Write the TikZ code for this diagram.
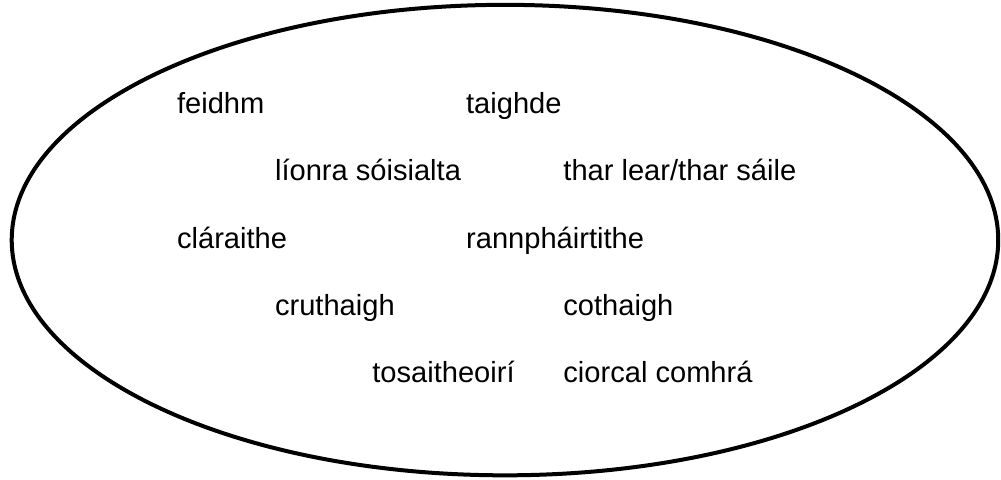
\documentclass[tikz,border=0pt]{standalone}
\usepackage{fontspec}
\setmainfont{Liberation Sans}
\usetikzlibrary{positioning, shapes.geometric}

\begin{document}
\begin{tikzpicture}[
    word/.style={anchor=base west, inner sep=0pt, font=\fontsize{12}{14}\selectfont},
    outline/.style={draw=black, ellipse, line width=1.65pt,
        minimum width=14.3cm, minimum height=6.82cm}
]
\useasboundingbox (-7.32,-3.47) rectangle (7.19,3.48);

% Circle
\node[outline] (map) at (0,0) {};

% Words
\node[word] (feidhm) at (-4.76,1.84) {feidhm};
\node[word] (taighde) at (-0.57,1.84) {taighde};
\node[word] (lionra) at (-3.34,0.87) {líonra sóisialta};
\node[word] (tharlear) at (0.84,0.87) {thar lear/thar sáile};
\node[word] (claraithe) at (-4.76,-0.12) {cláraithe};
\node[word] (rannph) at (-0.57,-0.12) {rannpháirtithe};
\node[word] (cruthaigh) at (-3.34,-1.09) {cruthaigh};
\node[word] (cothaigh) at (0.84,-1.09) {cothaigh};
\node[word] (tosaith) at (-1.93,-2.07) {tosaitheoirí};
\node[word] (ciorcal) at (0.84,-2.07) {ciorcal comhrá};

\end{tikzpicture}
\end{document}
